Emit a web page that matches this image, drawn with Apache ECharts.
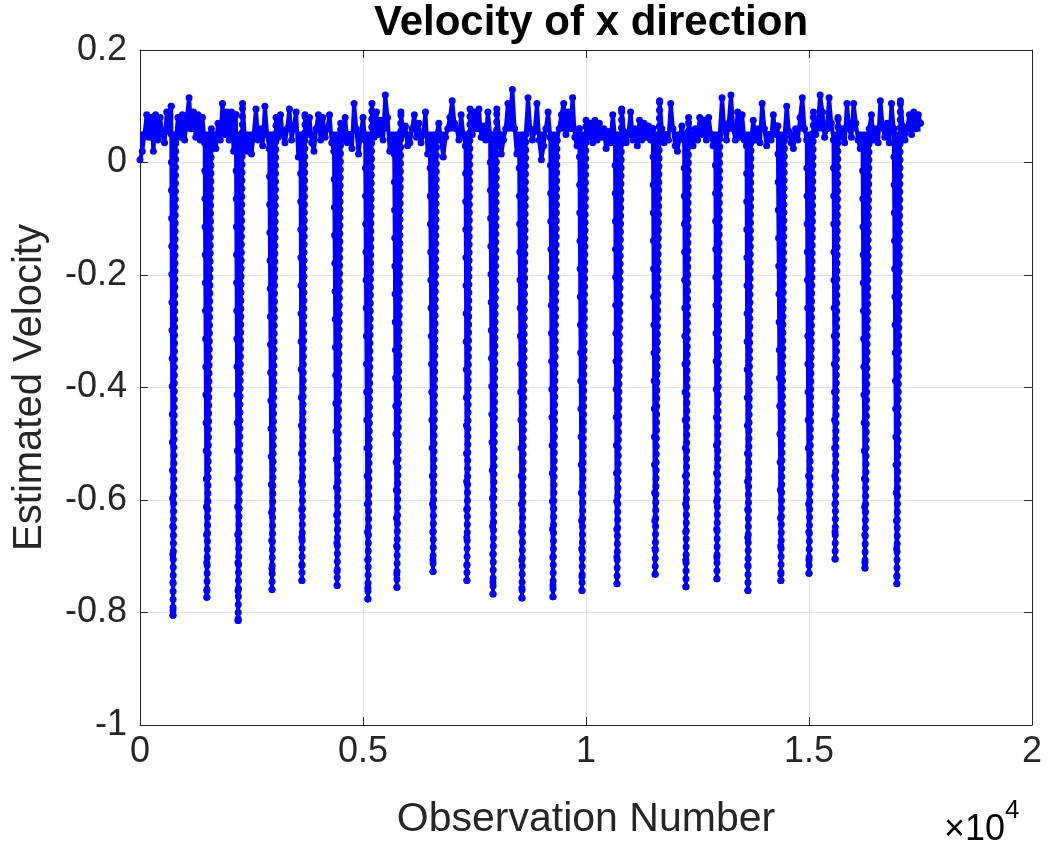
<!DOCTYPE html>
<html>
<head>
<meta charset="utf-8">
<script src="https://cdn.jsdelivr.net/npm/echarts@6/dist/echarts.min.js"></script>
<style>
  html, body { margin: 0; padding: 0; background: #ffffff; }
  #chart { width: 1050px; height: 850px; }
</style>
</head>
<body>
<div id="chart"></div>
<script>
// Estimated x-velocity, sampled every 50 observations between the dips
const baseStep = 50;
const baseline = [
  0.005, 0.02, 0.05, 0.085, 0.045, 0.08, 0.02, 0.085, 0.04, 0.08, 0.05, 0.035, 0.09, 0.055, 0.10, 0.04, 0.035, 0.08, 0.045, 0.085,
  0.04, 0.08, 0.115, 0.06, 0.09, 0.045, 0.085, 0.04, 0.08, 0.035, 0.03, 0.095, 0.06, 0.03, 0.025, 0.07, 0.04, 0.105, 0.05, 0.09,
  0.04, 0.09, 0.02, 0.085, 0.03, 0.08, 0.105, 0.045, 0.02, 0.03, 0.015, 0.05, 0.095, 0.04, 0.06, 0.03, 0.10, 0.05, 0.025, 0.03,
  0.04, 0.08, 0.045, 0.085, 0.05, 0.035, 0.06, 0.095, 0.04, 0.065, 0.09, 0.01, 0.03, 0.03, 0.085, 0.05, 0.08, 0.035, 0.02, 0.06,
  0.085, 0.04, 0.08, 0.045, 0.06, 0.085, 0.035, 0.02, 0.03, 0.04, 0.07, 0.04, 0.08, 0.035, 0.05, 0.025, 0.105, 0.06, 0.015, 0.05,
  0.08, 0.04, 0.03, 0.06, 0.105, 0.045, 0.09, 0.05, 0.075, 0.04, 0.12, 0.08, 0.02, 0.03, 0.015, 0.03, 0.035, 0.09, 0.05, 0.065,
  0.03, 0.035, 0.06, 0.085, 0.045, 0.07, 0.035, 0.05, 0.09, 0.015, 0.04, 0.03, 0.025, 0.05, 0.07, 0.04, 0.01, 0.045, 0.06, 0.08,
  0.11, 0.07, 0.06, 0.04, 0.085, 0.05, 0.03, 0.03, 0.095, 0.05, 0.09, 0.06, 0.095, 0.045, 0.065, 0.04, 0.09, 0.05, 0.03, 0.035,
  0.095, 0.05, 0.015, 0.04, 0.06, 0.105, 0.085, 0.13, 0.06, 0.015, 0.04, 0.03, 0.03, 0.05, 0.115, 0.06, 0.04, 0.055, 0.105, 0.04,
  0.005, 0.03, 0.06, 0.09, 0.045, 0.03, 0.015, 0.04, 0.06, 0.085, 0.105, 0.05, 0.09, 0.06, 0.115, 0.045, 0.03, 0.06, 0.03, 0.035,
  0.075, 0.045, 0.07, 0.035, 0.075, 0.04, 0.07, 0.045, 0.06, 0.025, 0.055, 0.035, 0.085, 0.045, 0.03, 0.04, 0.095, 0.055, 0.035, 0.05,
  0.09, 0.04, 0.06, 0.03, 0.075, 0.04, 0.07, 0.045, 0.065, 0.04, 0.06, 0.03, 0.04, 0.11, 0.06, 0.035, 0.05, 0.04, 0.105, 0.06,
  0.03, 0.02, 0.045, 0.065, 0.04, 0.03, 0.08, 0.05, 0.03, 0.06, 0.04, 0.08, 0.05, 0.075, 0.04, 0.08, 0.05, 0.03, 0.045, 0.03,
  0.05, 0.115, 0.06, 0.04, 0.07, 0.12, 0.06, 0.04, 0.09, 0.045, 0.085, 0.04, 0.03, 0.03, 0.035, 0.075, 0.04, 0.06, 0.035, 0.105,
  0.06, 0.03, 0.05, 0.04, 0.085, 0.05, 0.065, 0.03, 0.03, 0.045, 0.10, 0.055, 0.035, 0.025, 0.06, 0.04, 0.08, 0.115, 0.06, 0.04,
  0.03, 0.04, 0.09, 0.05, 0.07, 0.12, 0.09, 0.045, 0.06, 0.115, 0.07, 0.04, 0.03, 0.08, 0.045, 0.06, 0.035, 0.105, 0.06, 0.045,
  0.105, 0.07, 0.04, 0.025, 0.035, 0.03, 0.035, 0.06, 0.085, 0.04, 0.06, 0.035, 0.11, 0.065, 0.045, 0.07, 0.035, 0.105, 0.06, 0.04,
  0.035, 0.11, 0.065, 0.04, 0.06, 0.085, 0.05, 0.09, 0.06, 0.085, 0.07
];

// Sharp negative dips: observation number and lowest velocity
const spikeObs = [740, 1500, 2200, 2960, 3630, 4420, 5110, 5760, 6570, 7330, 7915, 8565,
                  9260, 9910, 10695, 11550, 12240, 12935, 13630, 14370, 15000, 15585, 16255, 16970];
const spikeMin = [-0.805, -0.773, -0.814, -0.759, -0.743, -0.752, -0.776, -0.755, -0.727, -0.743, -0.767, -0.774,
                  -0.772, -0.761, -0.749, -0.732, -0.754, -0.740, -0.761, -0.743, -0.730, -0.705, -0.721, -0.749];

const xTickLabels = ['0', '0.5', '1', '1.5', '2'];
const yTickLabels = ['-1', '-0.8', '-0.6', '-0.4', '-0.2', '0', '0.2'];

// Merge baseline samples and dips into one ordered trace
const points = [];
baseline.forEach((v, i) => {
  const x = i * baseStep;
  if (!spikeObs.some(s => x > s - 30 && x < s + 60)) points.push([x, v]);
});
spikeObs.forEach((s, k) => points.push([s, spikeMin[k]]));
points.sort((a, b) => a[0] - b[0]);

// Falling and rising flanks of each dip, used for the beaded markers
const falling = [], rising = [];
spikeObs.forEach(s => {
  const i = points.findIndex(p => p[0] === s);
  falling.push(points[i - 1], points[i], [s, '-']);
  rising.push(points[i], points[i + 1], [s, '-']);
});

const FONT = 'Liberation Sans, Arial, Helvetica, sans-serif';
const AXIS_COLOR = '#262626';
const BLUE = '#0000ff';

const chart = echarts.init(document.getElementById('chart'), null, { renderer: 'canvas' });

const frameAxis = {
  axisLine: { show: true, onZero: false, lineStyle: { color: AXIS_COLOR, width: 1 } },
  axisTick: { show: true, inside: true, length: 8, lineStyle: { color: AXIS_COLOR, width: 1 } },
  splitLine: { show: false },
  axisLabel: { show: false }
};

chart.setOption({
  animation: false,
  backgroundColor: '#ffffff',
  textStyle: { fontFamily: FONT },
  title: {
    text: 'Velocity of x direction',
    left: 586,
    top: -3,
    textAlign: 'center',
    textStyle: { fontFamily: FONT, fontSize: 42, fontWeight: 'bold', color: '#000000' }
  },
  grid: { left: 140, right: 18, top: 50, bottom: 125 },
  xAxis: [
    {
      type: 'value', min: 0, max: 20000, interval: 5000,
      name: 'Observation Number', nameLocation: 'middle', nameGap: 74,
      nameTextStyle: { fontFamily: FONT, fontSize: 41, color: AXIS_COLOR },
      axisLine: { show: true, onZero: false, lineStyle: { color: AXIS_COLOR, width: 1 } },
      axisTick: { show: true, inside: true, length: 8, lineStyle: { color: AXIS_COLOR } },
      axisLabel: {
        fontFamily: FONT, fontSize: 36, color: AXIS_COLOR, margin: 9,
        formatter: v => xTickLabels[Math.round(v / 5000)]
      },
      splitLine: { show: true, lineStyle: { color: '#e3e3e3', width: 1 } }
    },
    Object.assign({ type: 'value', position: 'top', min: 0, max: 20000, interval: 5000 }, frameAxis)
  ],
  yAxis: [
    {
      type: 'value', min: -1, max: 0.2, interval: 0.2,
      name: 'Estimated Velocity', nameLocation: 'middle', nameGap: 90,
      nameTextStyle: { fontFamily: FONT, fontSize: 40, color: AXIS_COLOR },
      axisLine: { show: true, onZero: false, lineStyle: { color: AXIS_COLOR, width: 1 } },
      axisTick: { show: true, inside: true, length: 8, lineStyle: { color: AXIS_COLOR } },
      axisLabel: {
        fontFamily: FONT, fontSize: 36, color: AXIS_COLOR, margin: 13,
        formatter: v => yTickLabels[Math.round((v + 1) / 0.2)]
      },
      splitLine: { show: true, lineStyle: { color: '#e3e3e3', width: 1 } }
    },
    Object.assign({ type: 'value', position: 'right', min: -1, max: 0.2, interval: 0.2 }, frameAxis)
  ],
  graphic: [
    {
      type: 'text',
      left: 944,
      top: 798,
      style: {
        text: '{a|\u00d710}{b|4}',
        rich: {
          a: { fontFamily: FONT, fontSize: 36, color: AXIS_COLOR, verticalAlign: 'bottom', lineHeight: 50 },
          b: { fontFamily: FONT, fontSize: 26, color: AXIS_COLOR, verticalAlign: 'top', lineHeight: 50, padding: [0, 0, 22, 0] }
        }
      }
    }
  ],
  series: [
    {
      type: 'line',
      data: points,
      showSymbol: true,
      symbol: 'circle',
      symbolSize: 7,
      itemStyle: { color: BLUE },
      lineStyle: { color: BLUE, width: 4, join: 'round' },
      // dense sampling reads as a solid band around the mean level
      areaStyle: { color: BLUE, opacity: 1, origin: 0.055 },
      z: 3
    },
    {
      type: 'line',
      data: falling,
      connectNulls: false,
      showSymbol: false,
      lineStyle: { color: BLUE, width: 7, type: [0, 28], cap: 'round' },
      z: 4
    },
    {
      type: 'line',
      data: rising,
      connectNulls: false,
      showSymbol: false,
      lineStyle: { color: BLUE, width: 7, type: [0, 8], cap: 'round' },
      z: 4
    }
  ]
});
</script>
</body>
</html>
